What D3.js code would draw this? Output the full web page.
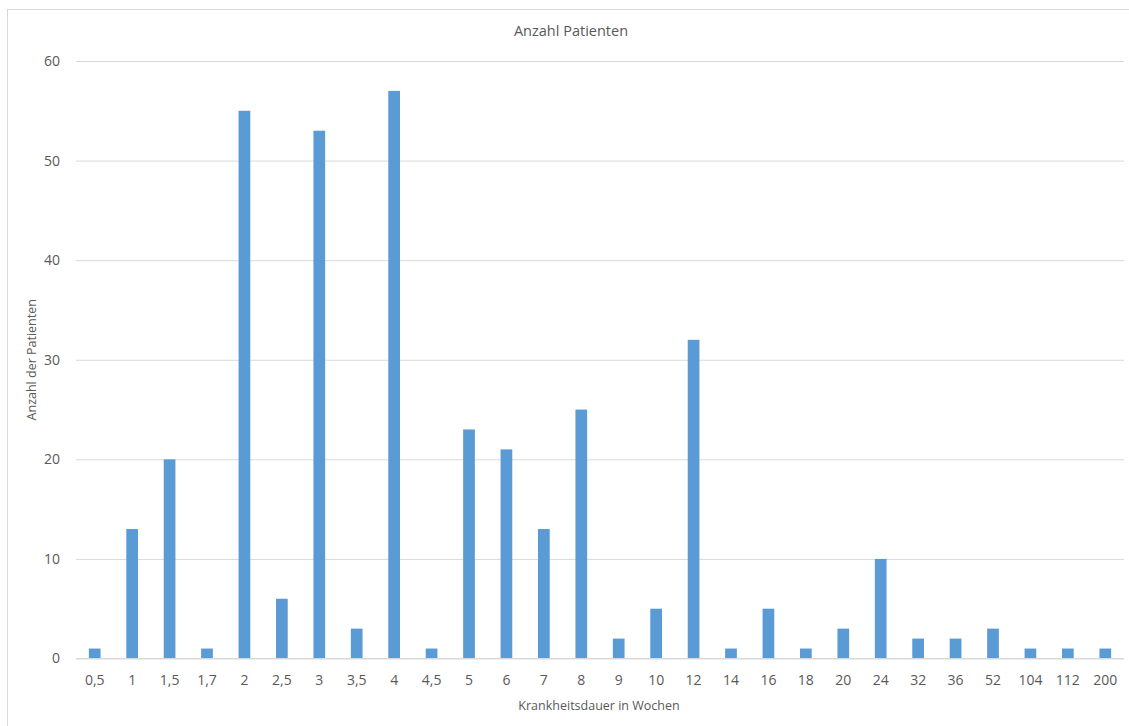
<!DOCTYPE html>
<html>
<head>
<meta charset="utf-8">
<script src="https://cdn.jsdelivr.net/npm/d3@7"></script>
<style>
  html, body { margin: 0; padding: 0; background: #fff; }
  svg { display: block; font-family: "Open Sans", "Noto Sans", sans-serif; }
</style>
</head>
<body>
<svg id="chart" width="1129" height="726"></svg>
<script>
// Krankheitsdauer (Wochen) und Anzahl der Patienten je Dauer
const categories = ["0,5","1","1,5","1,7","2","2,5","3","3,5","4","4,5","5","6","7","8","9","10","12","14","16","18","20","24","32","36","52","104","112","200"];
const patients = [1,13,20,1,55,6,53,3,57,1,23,21,13,25,2,5,32,1,5,1,3,10,2,2,3,1,1,1];
const yTicks = [0,10,20,30,40,50,60];

const svg = d3.select("#chart");
const textColor = "#595959";
const gridColor = "#D9D9D9";
const barColor = "#5B9BD5";

const plot = { left: 76, right: 1124, top: 61, bottom: 658.5 };

// chart area frame
svg.append("rect")
  .attr("x", 7.5).attr("y", 9.5)
  .attr("width", 1140).attr("height", 740)
  .attr("fill", "none").attr("stroke", gridColor).attr("stroke-width", 1);

const x = d3.scaleBand()
  .domain(categories)
  .range([plot.left, plot.right])
  .paddingInner(0.687)
  .paddingOuter(0.3435);

const y = d3.scaleLinear().domain([0, 60]).range([plot.bottom, plot.top]);

// horizontal gridlines
const yAxis = d3.axisLeft(y).tickValues(yTicks).tickSize(-(plot.right - plot.left)).tickPadding(16);
const gy = svg.append("g").attr("transform", `translate(${plot.left},0)`).call(yAxis);
gy.select(".domain").remove();
gy.selectAll(".tick line").attr("stroke", gridColor).attr("stroke-width", 1);
gy.selectAll(".tick text").attr("fill", textColor).attr("font-size", 14)
  .attr("font-family", "'Open Sans', sans-serif");

// bars
svg.append("g").selectAll("rect")
  .data(categories)
  .join("rect")
  .attr("x", (d) => x(d))
  .attr("width", x.bandwidth())
  .attr("y", (d, i) => y(patients[i]))
  .attr("height", (d, i) => y(0) - y(patients[i]))
  .attr("fill", barColor);

// category axis
const xAxis = d3.axisBottom(x).tickSize(0).tickPadding(17);
const gx = svg.append("g").attr("transform", `translate(0,${plot.bottom})`).call(xAxis);
gx.select(".domain").attr("stroke", gridColor).attr("stroke-width", 1)
  .attr("d", `M${plot.left},0H${plot.right}`);
gx.selectAll(".tick text").attr("fill", textColor).attr("font-size", 14)
  .attr("font-family", "'Open Sans', sans-serif");

// titles
svg.append("text")
  .attr("x", 571).attr("y", 36)
  .attr("text-anchor", "middle")
  .attr("fill", textColor).attr("font-size", 14.5)
  .text("Anzahl Patienten");

svg.append("text")
  .attr("x", (plot.left + plot.right) / 2 - 1).attr("y", 710)
  .attr("text-anchor", "middle")
  .attr("fill", textColor).attr("font-size", 12.5)
  .text("Krankheitsdauer in Wochen");

svg.append("text")
  .attr("transform", `translate(36,${(plot.top + plot.bottom) / 2}) rotate(-90)`)
  .attr("text-anchor", "middle")
  .attr("fill", textColor).attr("font-size", 12.5)
  .text("Anzahl der Patienten");
</script>
</body>
</html>
